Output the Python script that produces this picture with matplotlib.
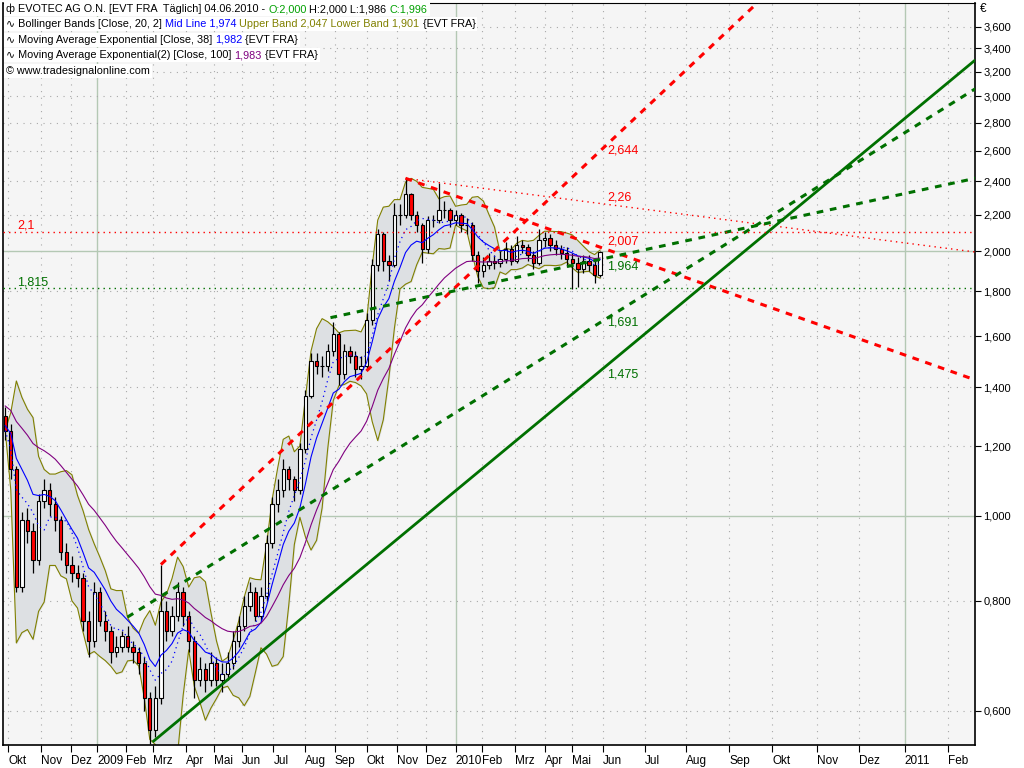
import matplotlib
matplotlib.use("Agg")
import matplotlib.pyplot as plt
import matplotlib.ticker as mticker
from matplotlib.patches import Rectangle
import numpy as np
import pandas as pd

plt.rcParams['font.family'] = ['Liberation Sans', 'DejaVu Sans']

# candles: one per 4 trading days, day 0 = 1 Oct 2008
bar_start = -2
bar_step = 4
first_open = 1.30
closes = [1.25, 1.13, 0.83, 0.99, 0.96, 0.89, 1.04, 1.07, 1.03, 0.99,
          0.91, 0.88, 0.86, 0.85, 0.76, 0.72, 0.82, 0.76, 0.74, 0.70,
          0.71, 0.73, 0.71, 0.70, 0.68, 0.62, 0.57, 0.62, 0.78, 0.74,
          0.77, 0.82, 0.77, 0.72, 0.65, 0.67, 0.65, 0.68, 0.65, 0.66,
          0.68, 0.72, 0.75, 0.79, 0.82, 0.77, 0.81, 0.93, 1.03, 1.07,
          1.13, 1.10, 1.07, 1.19, 1.37, 1.50, 1.48, 1.48, 1.54, 1.61,
          1.45, 1.54, 1.52, 1.47, 1.48, 1.67, 1.93, 2.09, 1.95, 1.93,
          2.20, 2.20, 2.32, 2.20, 2.14, 2.01, 2.17, 2.17, 2.23, 2.23,
          2.17, 2.20, 2.14, 2.14, 1.98, 1.90, 1.93, 1.95, 1.94, 1.96,
          2.01, 1.95, 2.03, 2.02, 1.98, 1.94, 2.06, 2.07, 2.03, 2.01,
          1.99, 1.96, 1.94, 1.91, 1.95, 1.93, 1.88, 1.996]
highs = [1.33, 1.27, 1.14, 1.01, 1.02, 0.98, 1.06, 1.10, 1.09, 1.05,
         1.00, 0.93, 0.90, 0.88, 0.86, 0.78, 0.84, 0.83, 0.78, 0.75,
         0.73, 0.74, 0.75, 0.72, 0.71, 0.69, 0.63, 0.64, 0.88, 0.80,
         0.79, 0.84, 0.83, 0.78, 0.73, 0.69, 0.68, 0.70, 0.69, 0.68,
         0.70, 0.74, 0.77, 0.81, 0.84, 0.83, 0.83, 0.95, 1.05, 1.10,
         1.16, 1.14, 1.11, 1.21, 1.39, 1.53, 1.53, 1.52, 1.57, 1.66,
         1.62, 1.57, 1.56, 1.54, 1.52, 1.70, 1.96, 2.12, 2.10, 1.98,
         2.27, 2.26, 2.42, 2.33, 2.22, 2.15, 2.19, 2.20, 2.39, 2.28,
         2.24, 2.23, 2.21, 2.18, 2.16, 2.00, 1.97, 1.99, 1.98, 2.00,
         2.05, 2.03, 2.08, 2.06, 2.04, 2.00, 2.12, 2.10, 2.09, 2.06,
         2.03, 2.02, 1.99, 1.97, 1.98, 1.98, 1.96, 2.00]
lows = [1.22, 1.10, 0.82, 0.82, 0.93, 0.86, 0.88, 1.02, 1.00, 0.96,
        0.89, 0.86, 0.84, 0.83, 0.74, 0.69, 0.71, 0.75, 0.72, 0.68,
        0.69, 0.70, 0.70, 0.68, 0.66, 0.60, 0.55, 0.56, 0.61, 0.72,
        0.73, 0.76, 0.75, 0.70, 0.62, 0.64, 0.63, 0.64, 0.64, 0.63,
        0.65, 0.67, 0.71, 0.74, 0.78, 0.76, 0.76, 0.80, 0.92, 1.01,
        1.05, 1.07, 1.04, 1.06, 1.18, 1.36, 1.45, 1.44, 1.46, 1.52,
        1.41, 1.43, 1.49, 1.44, 1.43, 1.47, 1.65, 1.90, 1.90, 1.85,
        1.92, 2.14, 2.18, 2.17, 2.10, 1.94, 1.99, 2.13, 2.15, 2.18,
        2.13, 2.14, 2.10, 2.09, 1.95, 1.84, 1.87, 1.91, 1.91, 1.92,
        1.94, 1.93, 1.94, 1.99, 1.95, 1.91, 1.93, 2.02, 2.00, 1.98,
        1.96, 1.92, 1.81, 1.82, 1.89, 1.90, 1.84, 1.87]

# indicator settings (daily periods converted to 4-day bars)
bb_window = 6
bb_width = 2
ema38_span = 9.5
ema100_span = 25
ema38_start = 1.27
ema100_start = 1.34

month_pos = [0, 24, 45, 64, 85, 104, 128, 148, 168, 191, 214, 235, 258, 280,
             301, 322, 341, 365, 386, 406, 428, 458, 488, 519, 550, 582, 612,
             645, 676]
month_lbl = ['Okt', 'Nov', 'Dez', '2009', 'Feb', 'Mrz', 'Apr', 'Mai', 'Jun',
             'Jul', 'Aug', 'Sep', 'Okt', 'Nov', 'Dez', '2010', 'Feb', 'Mrz',
             'Apr', 'Mai', 'Jun', 'Jul', 'Aug', 'Sep', 'Okt', 'Nov', 'Dez',
             '2011', 'Feb']
price_ticks = [0.6, 0.8, 1.0, 1.2, 1.4, 1.6, 1.8, 2.0, 2.2, 2.4, 2.6, 2.8,
               3.0, 3.2, 3.4, 3.6]

# trend lines: (day, price) pairs
red_up = [(110, 0.88), (700, 6.65)]
red_down = [(286, 2.42), (696, 1.427)]
red_dot = [(286, 2.42), (696, 1.995)]
green_dash1 = [(86, 0.767), (696, 3.06)]
green_dash2 = [(232, 1.68), (696, 2.42)]
green_solid = [(104, 0.553), (696, 3.30)]
level_red = 2.1
level_green = 1.815

RED = '#ff0000'
GREEN = '#007000'
OLIVE = '#808000'
PURPLE = '#800080'
BLUE = '#0000ff'

c = np.array(closes)
o = np.array([first_open] + closes[:-1])
h = np.array(highs)
l = np.array(lows)
x = bar_start + bar_step * np.arange(len(c))

s = pd.Series(c)
mid = s.rolling(bb_window, min_periods=1).mean()
sd = s.rolling(bb_window, min_periods=1).std(ddof=0)
upper = mid + bb_width * sd
lower = mid - bb_width * sd
ema38 = pd.Series([ema38_start] + closes).ewm(span=ema38_span, adjust=False).mean()[1:]
ema100 = pd.Series([ema100_start] + closes).ewm(span=ema100_span, adjust=False).mean()[1:]

W, H = 1024, 768
fig = plt.figure(figsize=(W / 100, H / 100), dpi=100)
fig.patch.set_facecolor('white')
ax = fig.add_axes([3 / W, 1 - 745 / H, 972 / W, 742 / H])
ax.set_facecolor('#f5f5f5')
ax.set_yscale('log')
ax.set_xlim(-3.6, 695.7)
ax.set_ylim(0.5486, 3.83)

# grid
for p, lb in zip(month_pos, month_lbl):
    if lb.isdigit():
        ax.axvline(p, color='#b4c8b4', lw=1, zorder=0)
    else:
        ax.axvline(p, color='#a8a8a8', lw=0.8, ls=(0, (1, 5)), zorder=0)
for v in price_ticks:
    if v in (1.0, 2.0):
        ax.axhline(v, color='#b4c8b4', lw=1, zorder=0)
    else:
        ax.axhline(v, color='#a8a8a8', lw=0.8, ls=(0, (1, 5)), zorder=0)

# bollinger band
ax.fill_between(x, lower, upper, color='#dde0e3', zorder=1)
ax.plot(x, upper, color=OLIVE, lw=0.8, zorder=1.5)
ax.plot(x, lower, color=OLIVE, lw=0.8, zorder=1.5)

# candles
up = c >= o
ax.vlines(x, l, h, color='black', lw=0.9, zorder=2)
ax.bar(x, np.abs(c - o), bottom=np.minimum(o, c), width=2.4,
       color=np.where(up, 'white', RED), edgecolor='black', lw=0.8, zorder=2.2)

ax.plot(x, mid, color=BLUE, lw=0.9, ls=(0, (1, 3)), zorder=3)
ax.plot(x, ema38, color=BLUE, lw=0.8, zorder=3)
ax.plot(x, ema100, color=PURPLE, lw=0.8, zorder=3)

# trend lines
dash = (0, (2.2, 2.2))
for ln, col, ls, lw in [(red_up, RED, dash, 2.2), (red_down, RED, dash, 2.2),
                        (red_dot, RED, (0, (1, 3)), 1.0),
                        (green_dash1, GREEN, dash, 2.2),
                        (green_dash2, GREEN, dash, 2.2),
                        (green_solid, GREEN, '-', 2.0)]:
    ax.plot([ln[0][0], ln[1][0]], [ln[0][1], ln[1][1]], color=col, ls=ls,
            lw=lw, zorder=4, solid_capstyle='butt')
ax.axhline(level_red, color=RED, lw=1.0, ls=(0, (1, 3)), zorder=4)
ax.axhline(level_green, color=GREEN, lw=1.0, ls=(0, (1, 3)), zorder=4)

# value labels
lab_x = 431
for txt, v, col, dy in [('2,644', 2.644, RED, -4), ('2,26', 2.26, RED, 5),
                        ('2,007', 2.007, RED, 6), ('1,964', 1.964, GREEN, -6),
                        ('1,691', 1.691, GREEN, -5), ('1,475', 1.475, GREEN, -5)]:
    ax.annotate(txt, (lab_x, v), xytext=(0, dy), textcoords='offset points',
                color=col, fontsize=9, va='center', ha='left', zorder=5)
ax.annotate('2,1', (6.5, level_red), xytext=(0, 5), textcoords='offset points',
            color=RED, fontsize=9, va='center', zorder=5)
ax.annotate('1,815', (6.5, level_green), xytext=(0, 4), textcoords='offset points',
            color=GREEN, fontsize=9, va='center', zorder=5)

# axes
ax.yaxis.tick_right()
ax.yaxis.set_major_locator(mticker.FixedLocator(price_ticks))
ax.yaxis.set_minor_locator(mticker.NullLocator())
ax.yaxis.set_major_formatter(mticker.FuncFormatter(lambda v, p: f'{v:.3f}'.replace('.', ',')))
ax.tick_params(axis='y', direction='out', length=4, width=0.8, labelsize=8, pad=2)
ax.set_xticks(month_pos)
ax.set_xticklabels(month_lbl, ha='left')
ax.tick_params(axis='x', direction='out', length=5, width=0.8, labelsize=8.5, pad=2)
for sp in ax.spines.values():
    sp.set_color('black')
    sp.set_linewidth(1.2)
ax.spines['top'].set_linewidth(0.8)
fig.text(980 / W, 1 - 9 / H, '€', fontsize=8.5, va='center', ha='left')

# header
r = fig.canvas.get_renderer()


def header_line(y_px, parts):
    x0 = 4
    xp = x0 + 2
    for txt, col in parts:
        t = fig.text(xp / W, 1 - y_px / H, txt, color=col, fontsize=7.8,
                     va='center', ha='left', zorder=10)
        xp += t.get_window_extent(r).width
    fig.patches.append(Rectangle((x0 / W, 1 - (y_px + 7) / H), (xp - x0 + 2) / W, 14 / H,
                                 transform=fig.transFigure, fc='white', ec='none',
                                 zorder=9))


header_line(9, [('ф ', 'black'), ('EVOTEC AG O.N. [EVT FRA  Täglich] 04.06.2010 - ', 'black'),
                ('O:2,000', '#00a000'), (' H:2,000 L:1,986 ', 'black'), ('C:1,996', '#00a000')])
header_line(24, [('∿ Bollinger Bands [Close, 20, 2] ', 'black'), ('Mid Line 1,974', BLUE),
                 (' Upper Band 2,047 Lower Band 1,901', OLIVE), (' {EVT FRA}', 'black')])
header_line(40, [('∿ Moving Average Exponential [Close, 38] ', 'black'), ('1,982', BLUE),
                 (' {EVT FRA}', 'black')])
header_line(55, [('∿ Moving Average Exponential(2) [Close, 100] ', 'black'), ('1,983', PURPLE),
                 (' {EVT FRA}', 'black')])
header_line(71, [('© www.tradesignalonline.com', 'black')])

fig.savefig('out.png', dpi=100)
